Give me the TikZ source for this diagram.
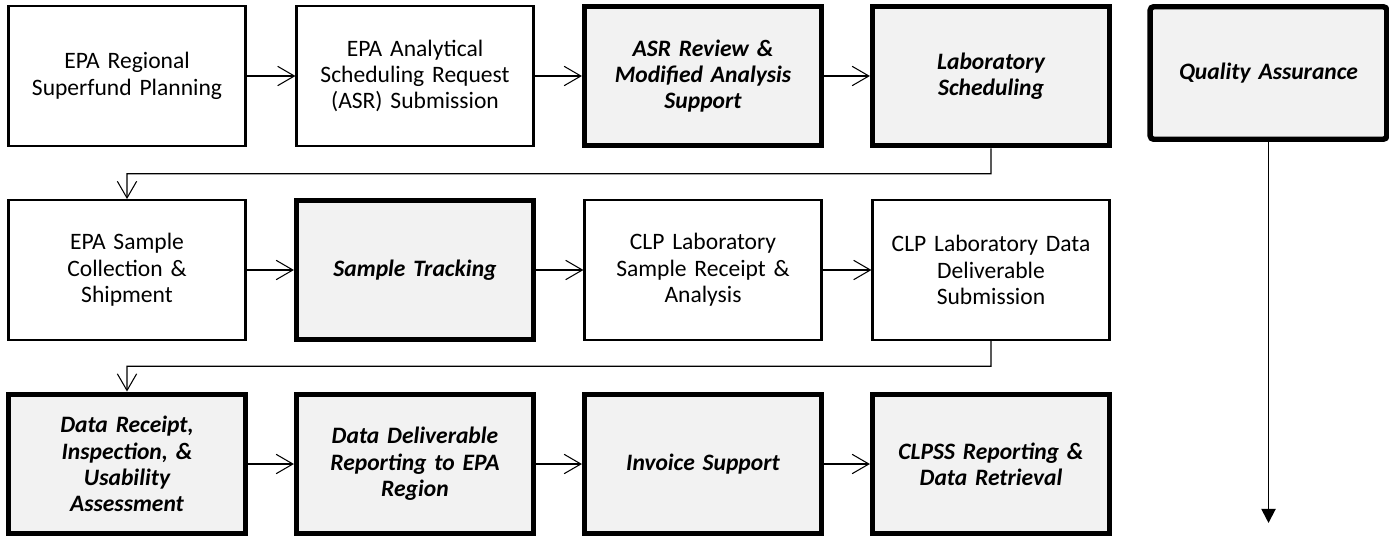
\documentclass[tikz,border=0pt]{standalone}
\usepackage{fontspec}
\setmainfont{Carlito}
\usetikzlibrary{arrows.meta, positioning, calc}
\definecolor{boxgray}{RGB}{242,242,242}
\definecolor{mydark}{RGB}{0,0,0}
\tikzset{
  plainbox/.style={rectangle, draw=mydark, fill=white,
    minimum width=4.67cm, minimum height=2.79cm, text width=4.5cm,
    align=center, font=\fontsize{13.4}{15}\selectfont, line width=1.4pt},
  taskbox/.style={plainbox, fill=boxgray, line width=3.1pt,
    font=\fontsize{13.4}{15}\selectfont\bfseries\itshape},
  qabox/.style={taskbox, minimum height=2.65cm, rounded corners=2pt},
  arrow/.style={-{Straight Barb[length=9.5pt,width=11pt]}, line width=0.6pt, color=mydark},
  qaarrow/.style={-{Triangle[length=8pt,width=8pt]}, line width=1.1pt, color=mydark}
}

\begin{document}
\begin{tikzpicture}[node distance=3.88cm and 5.76cm, on grid]
  \useasboundingbox (-2.54,1.52) rectangle (25.24,-9.22);
  % first row
  \node[plainbox] (plan) {EPA Regional\\Superfund Planning};
  \node[plainbox, right=of plan] (asr) {EPA Analytical\\Scheduling Request\\(ASR) Submission};
  \node[taskbox, right=of asr] (review) {ASR Review \&\\Modified Analysis\\Support};
  \node[taskbox, right=of review] (sched) {Laboratory\\Scheduling};
  \node[qabox, right=5.55cm of sched, yshift=0.06cm] (qa) {Quality Assurance};
  % second row
  \node[plainbox, below=of plan] (coll) {EPA Sample\\Collection \&\\Shipment};
  \node[taskbox, right=of coll] (track) {Sample Tracking};
  \node[plainbox, right=of track] (receipt) {CLP Laboratory\\Sample Receipt \&\\Analysis};
  \node[plainbox, right=of receipt] (deliv) {CLP Laboratory Data\\Deliverable\\Submission};
  % third row
  \node[taskbox, below=of coll] (usab) {Data Receipt,\\Inspection, \&\\Usability\\Assessment};
  \node[taskbox, right=of usab] (report) {Data Deliverable\\Reporting to EPA\\Region};
  \node[taskbox, right=of report] (invoice) {Invoice Support};
  \node[taskbox, right=of invoice] (clpss) {CLPSS Reporting \&\\Data Retrieval};
  \coordinate[below=7.62cm of qa.south] (qaend);

  \draw[arrow] (plan) -- (asr);
  \draw[arrow] (asr) -- (review);
  \draw[arrow] (review) -- (sched);
  \draw[arrow] (sched.south) -- ($(sched.south)!.5!(deliv.north)$) -| (coll.north);
  \draw[arrow] (coll) -- (track);
  \draw[arrow] (track) -- (receipt);
  \draw[arrow] (receipt) -- (deliv);
  \draw[arrow] (deliv.south) -- ($(deliv.south)!.5!(clpss.north)$) -| (usab.north);
  \draw[arrow] (usab) -- (report);
  \draw[arrow] (report) -- (invoice);
  \draw[arrow] (invoice) -- (clpss);
  \draw[qaarrow] (qa.south) -- (qaend);
\end{tikzpicture}
\end{document}
